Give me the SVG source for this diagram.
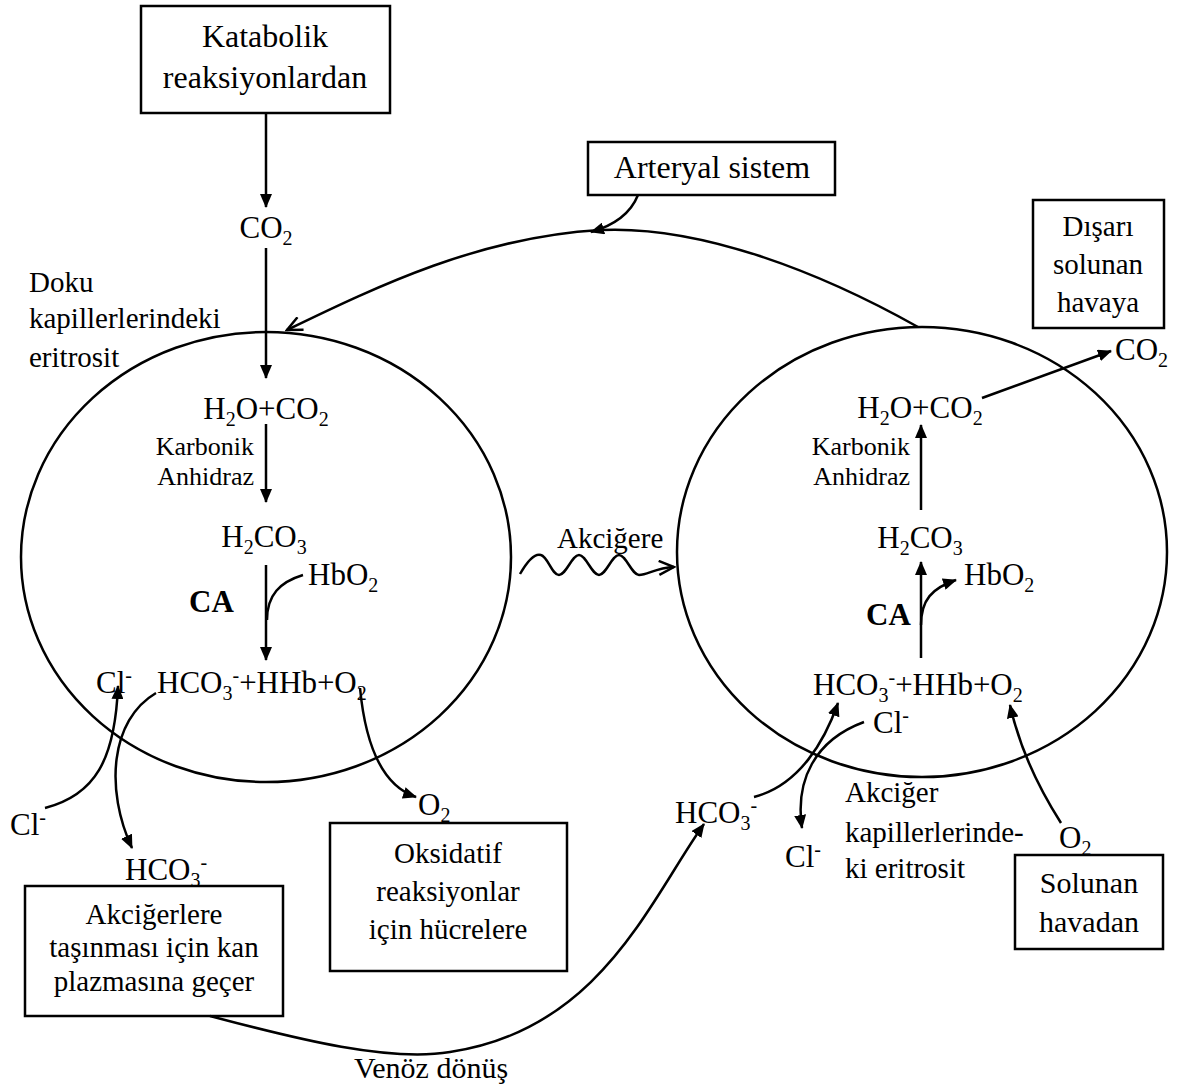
<svg xmlns="http://www.w3.org/2000/svg" width="1185" height="1088" viewBox="0 0 1185 1088">
<style>
.t{font-family:"Liberation Serif","Times New Roman",serif;font-size:31px;fill:#000}
.s{font-size:26px}
.l{font-size:29px}
.k{font-size:32px}
.n{font-size:30px}
.b{font-weight:bold}
.m{text-anchor:middle}
.box{fill:#fff;stroke:#000;stroke-width:2.5}
.c{fill:none;stroke:#000;stroke-width:2.5}
.cell{fill:none;stroke:#000;stroke-width:2.5}
</style>
<defs>
<marker id="ah" markerUnits="userSpaceOnUse" viewBox="0 0 14 12" refX="13" refY="6" markerWidth="14" markerHeight="12" orient="auto">
<path d="M0,0 L14,6 L0,12 z" fill="#000"/>
</marker>
<marker id="ao" markerUnits="userSpaceOnUse" viewBox="0 0 18 16" refX="16" refY="8" markerWidth="18" markerHeight="16" orient="auto">
<path d="M1,1 L16,8 L1,15" fill="none" stroke="#000" stroke-width="2.5"/>
</marker>
</defs>

<!-- cells -->
<g id="left-cell">
<ellipse class="cell" cx="266" cy="557" rx="245" ry="225"/>
<text class="t l" x="29" y="292">Doku</text>
<text class="t l" x="29" y="328">kapillerlerindeki</text>
<text class="t l" x="29" y="367">eritrosit</text>
</g>
<g id="right-cell">
<ellipse class="cell" cx="922" cy="552" rx="245" ry="225"/>
<text class="t l" x="845" y="802">Akciğer</text>
<text class="t l" x="845" y="842">kapillerlerinde-</text>
<text class="t l" x="845" y="878">ki eritrosit</text>
</g>

<!-- boxes -->
<g id="katabolik">
<rect class="box" x="141" y="6" width="249" height="107"/>
<text class="t k m" x="265" y="47">Katabolik</text>
<text class="t k m" x="265" y="88">reaksiyonlardan</text>
</g>
<g id="arteryal">
<rect class="box" x="588" y="142" width="247" height="53"/>
<text class="t k m" x="712" y="178">Arteryal sistem</text>
</g>
<g id="disari">
<rect class="box" x="1033" y="200" width="131" height="128"/>
<text class="t l m" x="1098" y="236">Dışarı</text>
<text class="t l m" x="1098" y="274">solunan</text>
<text class="t l m" x="1098" y="312">havaya</text>
</g>
<g id="oksidatif">
<rect class="box" x="330" y="823" width="237" height="148"/>
<text class="t l m" x="448" y="863">Oksidatif</text>
<text class="t l m" x="448" y="901">reaksiyonlar</text>
<text class="t l m" x="448" y="939">için hücrelere</text>
</g>
<g id="akcigerlere">
<rect class="box" x="25" y="886" width="258" height="130"/>
<text class="t l m" x="154" y="924">Akciğerlere</text>
<text class="t l m" x="154" y="957">taşınması için kan</text>
<text class="t l m" x="154" y="991">plazmasına geçer</text>
</g>
<g id="solunan">
<rect class="box" x="1015" y="855" width="148" height="94"/>
<text class="t n m" x="1089" y="893">Solunan</text>
<text class="t n m" x="1089" y="932">havadan</text>
</g>

<!-- left species -->
<g id="left-species">
<text class="t m" x="266" y="238">CO<tspan font-size="20" dy="7">2</tspan></text>
<text class="t m" x="266" y="419">H<tspan font-size="20" dy="7">2</tspan><tspan dy="-7">O+CO</tspan><tspan font-size="20" dy="7">2</tspan></text>
<text class="t s" x="254" y="455" text-anchor="end">Karbonik</text>
<text class="t s" x="254" y="485" text-anchor="end">Anhidraz</text>
<text class="t m" x="264" y="547">H<tspan font-size="20" dy="7">2</tspan><tspan dy="-7">CO</tspan><tspan font-size="20" dy="7">3</tspan></text>
<text class="t" x="308" y="585">HbO<tspan font-size="20" dy="7">2</tspan></text>
<text class="t b" x="189" y="612">CA</text>
<text class="t" x="157" y="693">HCO<tspan font-size="20" dy="7">3</tspan><tspan font-size="20" dy="-18">-</tspan><tspan dy="11">+HHb+O</tspan><tspan font-size="20" dy="7">2</tspan></text>
<text class="t" x="96" y="693">Cl<tspan font-size="20" dy="-11">-</tspan></text>
<text class="t" x="10" y="835">Cl<tspan font-size="20" dy="-11">-</tspan></text>
<text class="t" x="125" y="880">HCO<tspan font-size="20" dy="7">3</tspan><tspan font-size="20" dy="-18">-</tspan></text>
<text class="t" x="418" y="815">O<tspan font-size="20" dy="7">2</tspan></text>
</g>

<!-- right species -->
<g id="right-species">
<text class="t" x="1115" y="360">CO<tspan font-size="20" dy="7">2</tspan></text>
<text class="t m" x="920" y="418">H<tspan font-size="20" dy="7">2</tspan><tspan dy="-7">O+CO</tspan><tspan font-size="20" dy="7">2</tspan></text>
<text class="t s" x="910" y="455" text-anchor="end">Karbonik</text>
<text class="t s" x="910" y="485" text-anchor="end">Anhidraz</text>
<text class="t m" x="920" y="548">H<tspan font-size="20" dy="7">2</tspan><tspan dy="-7">CO</tspan><tspan font-size="20" dy="7">3</tspan></text>
<text class="t" x="964" y="585">HbO<tspan font-size="20" dy="7">2</tspan></text>
<text class="t b" x="866" y="625">CA</text>
<text class="t" x="813" y="695">HCO<tspan font-size="20" dy="7">3</tspan><tspan font-size="20" dy="-18">-</tspan><tspan dy="11">+HHb+O</tspan><tspan font-size="20" dy="7">2</tspan></text>
<text class="t" x="873" y="733">Cl<tspan font-size="20" dy="-11">-</tspan></text>
<text class="t" x="675" y="823">HCO<tspan font-size="20" dy="7">3</tspan><tspan font-size="20" dy="-18">-</tspan></text>
<text class="t" x="785" y="867">Cl<tspan font-size="20" dy="-11">-</tspan></text>
<text class="t" x="1059" y="848">O<tspan font-size="20" dy="7">2</tspan></text>
</g>

<g id="labels">
<text class="t l" x="557" y="548">Akciğere</text>
<text class="t n m" x="431" y="1078">Venöz dönüş</text>
</g>

<!-- connectors -->
<g id="connectors">
<path class="c" d="M266,113 L266,207" marker-end="url(#ah)"/>
<path class="c" d="M266,248 L266,378" marker-end="url(#ah)"/>
<path class="c" d="M266,424 L266,502" marker-end="url(#ah)"/>
<path class="c" d="M266,565 L266,660" marker-end="url(#ah)"/>
<path class="c" d="M303,575 C280,582 267,595 267,620"/>
<path class="c" d="M45,808 C95,795 115,760 118,686" marker-end="url(#ah)"/>
<path class="c" d="M156,693 C110,720 105,790 132,848" marker-end="url(#ah)"/>
<path class="c" d="M360,688 C365,740 380,785 416,797" marker-end="url(#ah)"/>
<path class="c" d="M638,195 C630,215 612,226 591,232" marker-end="url(#ah)"/>
<path class="c" d="M918,327 C820,272 700,225 600,230 C480,237 380,285 287,330" marker-end="url(#ao)"/>
<path class="c" d="M520,574 C528,560 535,553 541,555 C548,557 552,575 559,575 C566,575 572,555 579,555 C586,555 592,575 599,575 C606,575 612,555 619,555 C626,555 632,575 639,575 C648,575 655,568 674,567" marker-end="url(#ao)"/>
<path class="c" d="M982,398 L1111,351" marker-end="url(#ah)"/>
<path class="c" d="M921,510 L921,425" marker-end="url(#ah)"/>
<path class="c" d="M921,658 L921,562" marker-end="url(#ah)"/>
<path class="c" d="M921,625 C921,600 932,588 956,580" marker-end="url(#ah)"/>
<path class="c" d="M754,797 C800,785 825,740 838,703" marker-end="url(#ah)"/>
<path class="c" d="M864,722 C815,740 795,780 802,828" marker-end="url(#ah)"/>
<path class="c" d="M1061,823 C1040,790 1020,750 1010,705" marker-end="url(#ah)"/>
<path class="c" d="M210,1016 C300,1040 390,1062 450,1052 C600,1030 650,900 704,824" marker-end="url(#ah)"/>
</g>
</svg>
